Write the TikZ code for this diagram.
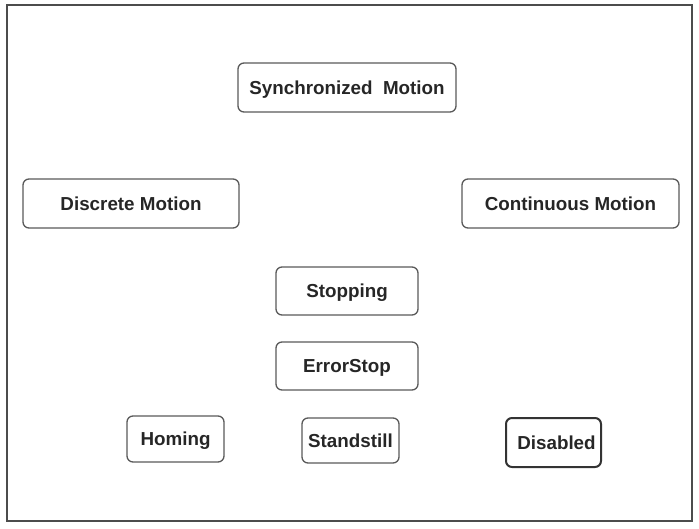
\documentclass[tikz,border=0pt]{standalone}
\usepackage{fontspec}
\setmainfont{Liberation Sans}
\begin{document}
\begin{tikzpicture}[x=1pt,y=-1pt,
  statebox/.style={draw=black!65, line width=1.3pt, rounded corners=6pt, inner sep=0pt,
    text height=13.5pt, text depth=0pt,
    font=\fontsize{18.8}{22}\selectfont\bfseries, text=black!85},
  strongbox/.style={statebox, draw=black!80, line width=2pt}]
\useasboundingbox (0,0) rectangle (699,528);
\draw[black!70, line width=2pt] (7,5) rectangle (692,521);
\node[statebox, minimum width=218pt, minimum height=49pt] (sync) at (347,87.5) {Synchronized\ \ Motion};
\node[statebox, minimum width=216pt, minimum height=49pt] (disc) at (131,203.5) {Discrete Motion};
\node[statebox, minimum width=217pt, minimum height=49pt] (cont) at (570.5,203.5) {Continuous Motion};
\node[statebox, minimum width=142pt, minimum height=48pt] (stop) at (347,291) {Stopping};
\node[statebox, minimum width=142pt, minimum height=48pt] (err) at (347,366) {ErrorStop};
\node[statebox, minimum width=97pt, minimum height=46pt] (hom) at (175.5,439) {Homing};
\node[statebox, minimum width=97pt, minimum height=45pt] (stand) at (350.5,440.5) {Standstill};
\node[strongbox, minimum width=95pt, minimum height=49pt] (dis) at (553.5,442.5) {\hspace{6pt}Disabled};
\end{tikzpicture}
\end{document}
